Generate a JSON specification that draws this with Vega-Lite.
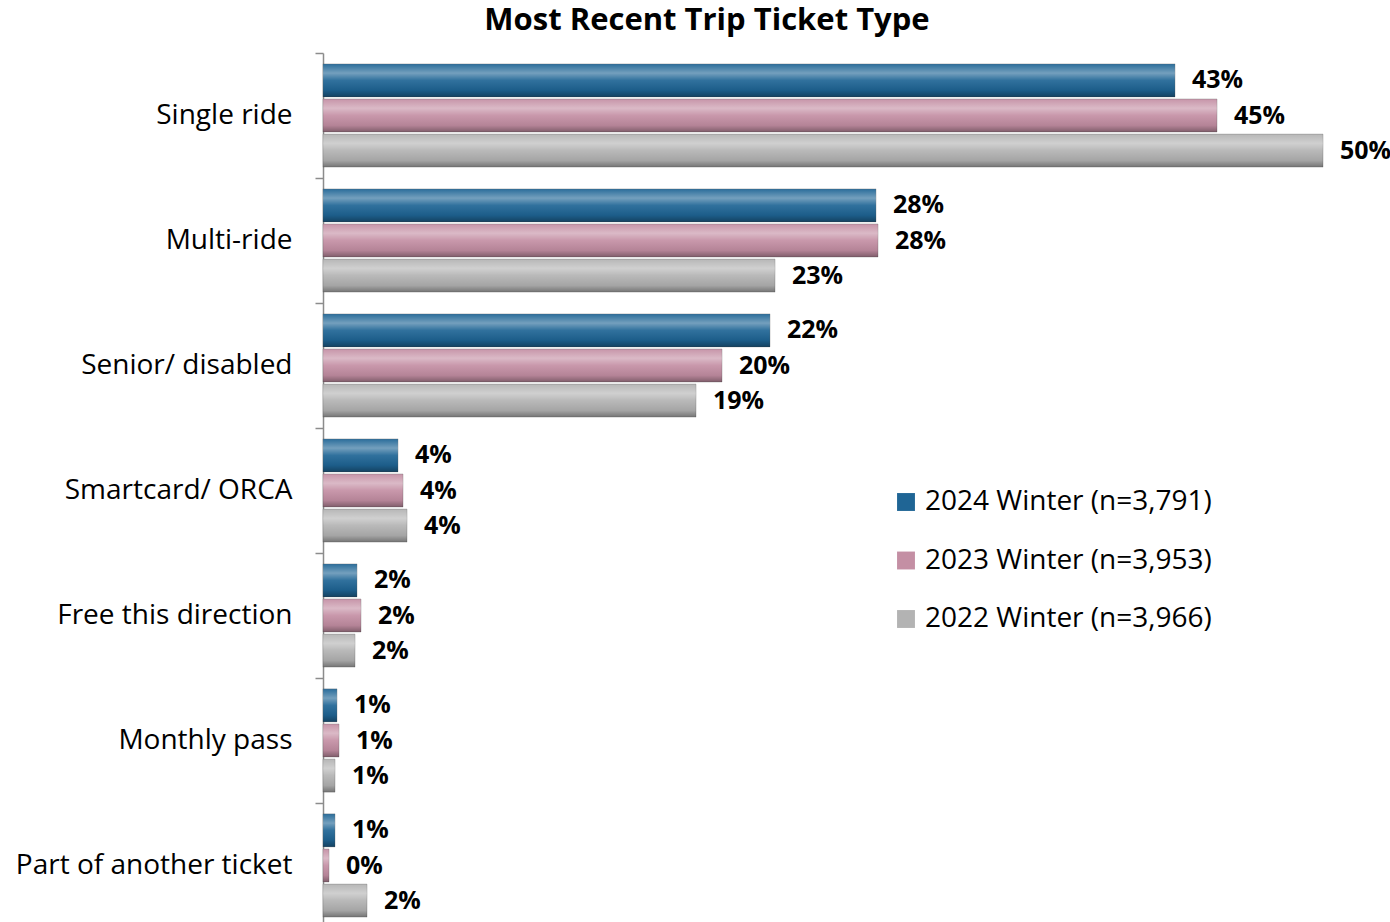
{
  "$schema": "https://vega.github.io/schema/vega-lite/v6.json",
  "autosize": {"type": "none"},
  "padding": {"left": 323, "top": 53, "right": 67, "bottom": 0},
  "width": 1000,
  "height": 875,
  "background": "white",
  "config": {
    "view": {"stroke": null},
    "font": "Open Sans"
  },
  "title": {
    "text": "Most Recent Trip Ticket Type",
    "font": "Open Sans",
    "fontSize": 31,
    "fontWeight": "bold",
    "color": "#000000",
    "anchor": "middle",
    "dx": -116,
    "offset": -29,
    "baseline": "bottom"
  },
  "data": {
    "values": [
      {"ticket": "Single ride", "wave": "2024 Winter (n=3,791)", "share": 0.426},
      {"ticket": "Single ride", "wave": "2023 Winter (n=3,953)", "share": 0.447},
      {"ticket": "Single ride", "wave": "2022 Winter (n=3,966)", "share": 0.5},
      {"ticket": "Multi-ride", "wave": "2024 Winter (n=3,791)", "share": 0.2765},
      {"ticket": "Multi-ride", "wave": "2023 Winter (n=3,953)", "share": 0.2775},
      {"ticket": "Multi-ride", "wave": "2022 Winter (n=3,966)", "share": 0.226},
      {"ticket": "Senior/ disabled", "wave": "2024 Winter (n=3,791)", "share": 0.2235},
      {"ticket": "Senior/ disabled", "wave": "2023 Winter (n=3,953)", "share": 0.1995},
      {"ticket": "Senior/ disabled", "wave": "2022 Winter (n=3,966)", "share": 0.1865},
      {"ticket": "Smartcard/ ORCA", "wave": "2024 Winter (n=3,791)", "share": 0.0375},
      {"ticket": "Smartcard/ ORCA", "wave": "2023 Winter (n=3,953)", "share": 0.04},
      {"ticket": "Smartcard/ ORCA", "wave": "2022 Winter (n=3,966)", "share": 0.042},
      {"ticket": "Free this direction", "wave": "2024 Winter (n=3,791)", "share": 0.017},
      {"ticket": "Free this direction", "wave": "2023 Winter (n=3,953)", "share": 0.019},
      {"ticket": "Free this direction", "wave": "2022 Winter (n=3,966)", "share": 0.016},
      {"ticket": "Monthly pass", "wave": "2024 Winter (n=3,791)", "share": 0.007},
      {"ticket": "Monthly pass", "wave": "2023 Winter (n=3,953)", "share": 0.008},
      {"ticket": "Monthly pass", "wave": "2022 Winter (n=3,966)", "share": 0.006},
      {"ticket": "Part of another ticket", "wave": "2024 Winter (n=3,791)", "share": 0.006},
      {"ticket": "Part of another ticket", "wave": "2023 Winter (n=3,953)", "share": 0.003},
      {"ticket": "Part of another ticket", "wave": "2022 Winter (n=3,966)", "share": 0.022}
    ]
  },
  "encoding": {
    "y": {
      "field": "ticket",
      "type": "nominal",
      "sort": ["Single ride", "Multi-ride", "Senior/ disabled", "Smartcard/ ORCA", "Free this direction", "Monthly pass", "Part of another ticket"],
      "scale": {"paddingInner": 0, "paddingOuter": 0},
      "axis": {
        "title": null,
        "domainColor": "#8c8c8c",
        "domainWidth": 1.5,
        "tickColor": "#8c8c8c",
        "tickWidth": 1.5,
        "tickSize": 8,
        "tickBand": "extent",
        "labelPadding": 23,
        "labelFont": "Open Sans",
        "labelFontSize": 28,
        "labelColor": "#000000",
        "labelLimit": 400
      }
    },
    "yOffset": {
      "field": "wave",
      "type": "nominal",
      "sort": ["2024 Winter (n=3,791)", "2023 Winter (n=3,953)", "2022 Winter (n=3,966)"],
      "scale": {"paddingInner": 0.06, "paddingOuter": 0.31}
    },
    "x": {
      "field": "share",
      "type": "quantitative",
      "scale": {"domain": [0, 0.5], "nice": false},
      "axis": null
    }
  },
  "layer": [
    {
      "mark": {"type": "bar", "stroke": "#5a5a5a", "strokeWidth": 0.6, "strokeOpacity": 0.5},
      "encoding": {
        "color": {
          "field": "wave",
          "type": "nominal",
          "sort": ["2024 Winter (n=3,791)", "2023 Winter (n=3,953)", "2022 Winter (n=3,966)"],
          "scale": {"range": ["#1f6595", "#c48fa4", "#b3b3b3"]},
          "legend": {
            "title": null,
            "orient": "none",
            "legendX": 569,
            "legendY": 435,
            "symbolType": "square",
            "symbolSize": 320,
            "symbolStrokeWidth": 0,
            "labelFont": "Open Sans",
            "labelFontSize": 28,
            "labelColor": "#000000",
            "labelLimit": 500,
            "labelOffset": 5,
            "rowPadding": 30.5
          }
        }
      }
    },
    {
      "mark": {
        "type": "bar",
        "fill": {
          "gradient": "linear",
          "x1": 0, "y1": 0, "x2": 0, "y2": 1,
          "stops": [
            {"offset": 0, "color": "rgba(255,255,255,0.05)"},
            {"offset": 0.28, "color": "rgba(255,255,255,0.38)"},
            {"offset": 0.5, "color": "rgba(255,255,255,0.08)"},
            {"offset": 0.8, "color": "rgba(0,0,0,0.08)"},
            {"offset": 1, "color": "rgba(0,0,0,0.35)"}
          ]
        }
      },
      "encoding": {}
    },
    {
      "mark": {
        "type": "text",
        "align": "left",
        "baseline": "middle",
        "dx": 17,
        "font": "Open Sans",
        "fontSize": 25,
        "fontWeight": "bold",
        "color": "#000000"
      },
      "encoding": {
        "text": {"field": "share", "type": "quantitative", "format": ".0%"}
      }
    }
  ]
}
